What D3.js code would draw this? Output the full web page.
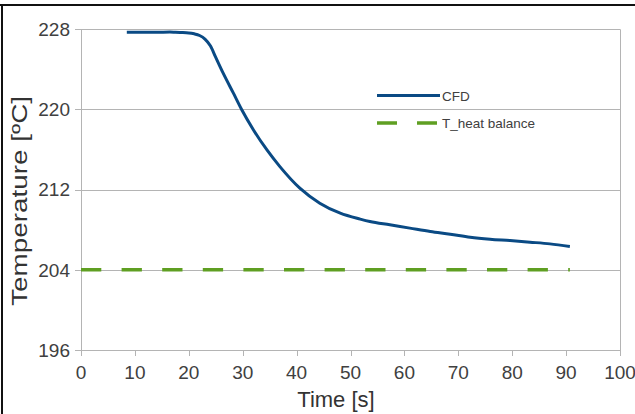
<!DOCTYPE html>
<html>
<head>
<meta charset="utf-8">
<script src="https://cdn.jsdelivr.net/npm/d3@7/dist/d3.min.js"></script>
<style>
  html, body { margin: 0; padding: 0; background: #fff; }
  svg { display: block; }
</style>
</head>
<body>
<div id="chart"></div>
<script>
// ---- data ----
const cfdTime = [8.5, 11, 14, 16.5, 17.5, 18.4, 20, 21, 22, 23, 24, 25, 26.4, 28.3, 29.8, 32.0, 34.5, 36.9, 40.6, 44.3, 48.1, 51.8, 53.6, 57.3, 61.0, 64.8, 68.5, 72.2, 75.9, 79.6, 83.3, 87.0, 90.7];
const cfdTemp = [227.7, 227.7, 227.7, 227.72, 227.7, 227.68, 227.64, 227.55, 227.38, 227.02, 226.35, 225.2, 223.6, 221.6, 220.0, 217.96, 215.96, 214.3, 212.15, 210.65, 209.65, 209.06, 208.82, 208.49, 208.16, 207.82, 207.56, 207.26, 207.06, 206.92, 206.76, 206.59, 206.33];
const heatTime = [0, 90.7];
const heatTemp = [204, 204];
const xTicks = [0, 10, 20, 30, 40, 50, 60, 70, 80, 90, 100];
const yTicks = [196, 204, 212, 220, 228];
const seriesNames = ["CFD", "T_heat balance"];
const xTitle = "Time [s]";
const yTitle = "Temperature [ºC]";

// ---- layout ----
const W = 635, H = 414;
const svg = d3.select("#chart").append("svg").attr("width", W).attr("height", H);
const x = d3.scaleLinear().domain([0, 100]).range([81, 620]);
const y = d3.scaleLinear().domain([196, 228]).range([350, 29.3]);
const gridCol = "#b4b4b4";
const textCol = "#404040";
const blue = "#0a4a84";
const green = "#5f9f22";

svg.append("rect").attr("width", W).attr("height", H).attr("fill", "#fff");

// frame (top and left)
svg.append("line").attr("x1", 0).attr("x2", W).attr("y1", 5).attr("y2", 5).attr("stroke", "#111").attr("stroke-width", 2);
svg.append("line").attr("x1", 2).attr("x2", 2).attr("y1", 4).attr("y2", H).attr("stroke", "#111").attr("stroke-width", 2);

// gridlines
svg.append("g").selectAll("line").data(yTicks).join("line")
  .attr("x1", x(0) - 6).attr("x2", x(100))
  .attr("y1", d => Math.round(y(d)) + 0.5).attr("y2", d => Math.round(y(d)) + 0.5)
  .attr("stroke", gridCol).attr("stroke-width", 1);

// axis lines
svg.append("line").attr("x1", Math.round(x(0)) + 0.5).attr("x2", Math.round(x(0)) + 0.5)
  .attr("y1", y(228)).attr("y2", y(196)).attr("stroke", gridCol);
svg.append("line").attr("x1", Math.round(x(100)) + 0.5).attr("x2", Math.round(x(100)) + 0.5)
  .attr("y1", y(228)).attr("y2", y(196)).attr("stroke", gridCol);

// x ticks
svg.append("g").selectAll("line").data(xTicks).join("line")
  .attr("x1", d => Math.round(x(d)) + 0.5).attr("x2", d => Math.round(x(d)) + 0.5)
  .attr("y1", Math.round(y(196))).attr("y2", Math.round(y(196)) + 6)
  .attr("stroke", gridCol);

// tick labels
svg.append("g").selectAll("text").data(xTicks).join("text")
  .attr("x", d => x(d)).attr("y", 379)
  .attr("text-anchor", "middle")
  .attr("font-family", "Liberation Sans, Arial, sans-serif")
  .attr("font-size", 19).attr("fill", textCol)
  .text(d => d);

svg.append("g").selectAll("text").data(yTicks).join("text")
  .attr("x", 70).attr("y", d => y(d)).attr("dy", "0.36em")
  .attr("text-anchor", "end")
  .attr("font-family", "Liberation Sans Narrow, Arial Narrow, Liberation Sans, sans-serif")
  .attr("font-size", 19).attr("fill", textCol)
  .text(d => d);

// axis titles
svg.append("text").attr("x", 336).attr("y", 406.5)
  .attr("text-anchor", "middle")
  .attr("font-family", "Liberation Sans, Arial, sans-serif")
  .attr("font-size", 22).attr("fill", "#333")
  .text(xTitle);

svg.append("text")
  .attr("transform", "translate(27,201) rotate(-90)")
  .attr("text-anchor", "middle")
  .attr("font-family", "Liberation Sans, Arial, sans-serif")
  .attr("font-size", 22).attr("fill", "#333")
  .attr("textLength", 210).attr("lengthAdjust", "spacingAndGlyphs")
  .text(yTitle);

// series
const line = d3.line().x(d => x(d[0])).y(d => y(d[1])).curve(d3.curveMonotoneX);
svg.append("path")
  .datum(heatTime.map((t, i) => [t, heatTemp[i]]))
  .attr("d", d3.line().x(d => x(d[0])).y(d => y(d[1])))
  .attr("fill", "none").attr("stroke", green).attr("stroke-width", 3.5)
  .attr("stroke-dasharray", "20.3,20.3");

svg.append("path")
  .datum(cfdTime.map((t, i) => [t, cfdTemp[i]]))
  .attr("d", line)
  .attr("fill", "none").attr("stroke", blue).attr("stroke-width", 3)
  .attr("stroke-linejoin", "round");

// legend
const lg = svg.append("g");
lg.append("line").attr("x1", 377).attr("x2", 440).attr("y1", 95.5).attr("y2", 95.5)
  .attr("stroke", blue).attr("stroke-width", 3);
lg.append("line").attr("x1", 377).attr("x2", 440).attr("y1", 123).attr("y2", 123)
  .attr("stroke", green).attr("stroke-width", 3.5).attr("stroke-dasharray", "20,20");
lg.selectAll("text").data(seriesNames).join("text")
  .attr("x", 442).attr("y", (d, i) => 100.5 + i * 27.5)
  .attr("font-family", "Liberation Sans, Arial, sans-serif")
  .attr("font-size", 13.5).attr("fill", textCol)
  .text(d => d);
</script>
</body>
</html>
